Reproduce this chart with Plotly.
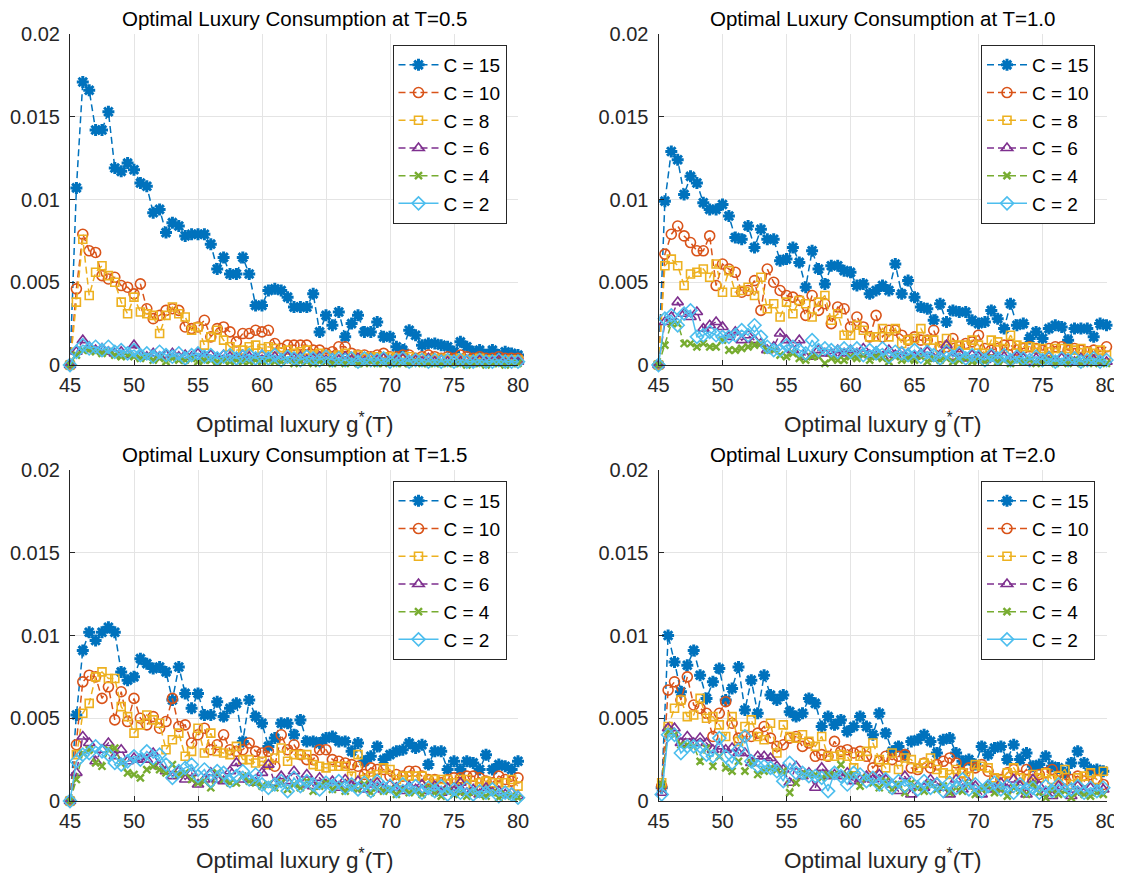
import plotly.graph_objects as go

# ---------------- data ----------------
X_FULL = [45 + 0.5 * k for k in range(71)]      # panels T=0.5, 1.0, 1.5
X_SHIFT = [45.25 + 0.5 * k for k in range(70)]  # panel T=2.0

LABELS = ["C = 15", "C = 10", "C = 8", "C = 6", "C = 4", "C = 2"]
TITLES = ["Optimal Luxury Consumption at T=0.5", "Optimal Luxury Consumption at T=1.0",
          "Optimal Luxury Consumption at T=1.5", "Optimal Luxury Consumption at T=2.0"]
X_TICKS = [45, 50, 55, 60, 65, 70, 75, 80]
Y_TICKS = [0, 0.005, 0.01, 0.015, 0.02]
Y_TICKTEXT = ["0", "0.005", "0.01", "0.015", "0.02"]

# ---- T = 0.5 ----
T05_C15 = [0, .0107, .0171, .0166, .0142, .0142, .0153, .0119, .0117, .0122,
           .0118, .0110, .0108, .0092, .0094, .0080, .0086, .0084, .0078, .0079,
           .0079, .0079, .0073, .0058, .0065, .0055, .0055, .0065, .0055, .0036,
           .0036, .0045, .0046, .0045, .0041, .0035, .0035, .0035, .0043, .0020,
           .0030, .0024, .0032, .0017, .0025, .0030, .0020, .0020, .0026, .0017,
           .0017, .0011, .0009, .0021, .0018, .0012, .0013, .0013, .0012, .0011,
           .0008, .0014, .0011, .0008, .0009, .0006, .0009, .0006, .0008, .0007, .0006]
T05_C10 = [0, .0046, .0079, .0069, .0068, .0054, .0052, .0053, .0048, .0047,
           .0043, .0049, .0034, .0028, .0030, .0033, .0034, .0033, .0023, .0022,
           .0023, .0027, .0017, .0022, .0023, .0020, .0014, .0019, .0019, .0021,
           .0020, .0021, .0013, .0010, .0012, .0012, .0012, .0012, .0009, .0009,
           .0007, .0008, .0011, .0011, .0007, .0006, .0006, .0005, .0006, .0007,
           .0005, .0005, .0006, .0006, .0004, .0005, .0006, .0005, .0004, .0005,
           .0004, .0006, .0005, .0004, .0005, .0004, .0004, .0005, .0004, .0004, .0004]
T05_C8 = [0, .0038, .0076, .0042, .0056, .0060, .0054, .0050, .0038, .0031,
          .0041, .0032, .0031, .0030, .0019, .0030, .0035, .0031, .0029, .0021,
          .0023, .0012, .0017, .0021, .0015, .0011, .0009, .0009, .0011, .0012,
          .0010, .0011, .0010, .0008, .0009, .0007, .0008, .0009, .0006, .0007,
          .0006, .0005, .0006, .0007, .0005, .0006, .0004, .0005, .0005, .0004,
          .0005, .0004, .0004, .0005, .0003, .0004, .0004, .0003, .0004, .0003,
          .0003, .0004, .0003, .0003, .0004, .0003, .0003, .0003, .0002, .0003, .0003]
T05_C6 = [0, .0008, .0015, .0011, .0009, .0010, .0008, .0007, .0008, .0006,
          .0012, .0006, .0005, .0007, .0005, .0006, .0007, .0005, .0006, .0005,
          .0007, .0005, .0006, .0004, .0006, .0005, .0004, .0006, .0005, .0004,
          .0006, .0004, .0005, .0003, .0005, .0004, .0005, .0003, .0004, .0005,
          .0003, .0004, .0003, .0005, .0003, .0004, .0002, .0004, .0003, .0004,
          .0002, .0003, .0004, .0002, .0003, .0002, .0004, .0002, .0003, .0002,
          .0003, .0002, .0003, .0001, .0003, .0002, .0002, .0003, .0001, .0002, .0002]
T05_C4 = [0, .0006, .0009, .0009, .0008, .0007, .0008, .0006, .0005, .0006,
          .0005, .0004, .0005, .0003, .0004, .0002, .0004, .0003, .0003, .0004,
          .0002, .0003, .0003, .0002, .0003, .0002, .0003, .0002, .0002, .0003,
          .0002, .0003, .0002, .0002, .0003, .0001, .0002, .0002, .0001, .0002,
          .0002, .0001, .0002, .0001, .0002, .0001, .0001, .0002, .0001, .0001,
          .0002, .0001, .0001, .0001, .0002, .0001, .0001, .0001, .0001, .0001,
          .0001, .0001, .0000, .0001, .0001, .0000, .0001, .0001, .0000, .0001, .0001]
T05_C2 = [0, .0008, .0012, .0010, .0011, .0009, .0011, .0008, .0009, .0007,
          .0009, .0006, .0007, .0005, .0008, .0006, .0005, .0007, .0004, .0006,
          .0007, .0005, .0006, .0004, .0005, .0006, .0004, .0005, .0006, .0004,
          .0005, .0004, .0006, .0003, .0005, .0004, .0003, .0005, .0004, .0003,
          .0005, .0003, .0004, .0003, .0004, .0002, .0004, .0003, .0003, .0004,
          .0002, .0003, .0004, .0002, .0003, .0003, .0002, .0003, .0002, .0003,
          .0002, .0003, .0002, .0002, .0003, .0002, .0002, .0003, .0002, .0002, .0002]

# ---- T = 1.0 ----
T10_C15 = [0, .0099, .0129, .0124, .0103, .0114, .0110, .0098, .0094, .0094,
           .0097, .0090, .0077, .0076, .0084, .0071, .0082, .0076, .0076, .0063,
           .0064, .0071, .0062, .0047, .0069, .0058, .0049, .0060, .0060, .0057,
           .0056, .0048, .0049, .0043, .0045, .0048, .0045, .0061, .0043, .0051,
           .0041, .0035, .0034, .0027, .0037, .0026, .0033, .0032, .0032, .0027,
           .0025, .0026, .0033, .0028, .0022, .0037, .0024, .0025, .0016, .0020,
           .0016, .0022, .0024, .0023, .0015, .0022, .0022, .0022, .0017, .0025, .0024]
T10_C10 = [0, .0067, .0079, .0084, .0078, .0074, .0069, .0069, .0078, .0048,
           .0061, .0058, .0056, .0044, .0045, .0051, .0033, .0058, .0050, .0045,
           .0042, .0041, .0039, .0030, .0042, .0033, .0037, .0025, .0035, .0034,
           .0023, .0029, .0023, .0017, .0030, .0017, .0021, .0021, .0018, .0015,
           .0017, .0015, .0015, .0021, .0011, .0011, .0016, .0011, .0013, .0014,
           .0018, .0010, .0009, .0010, .0012, .0012, .0009, .0010, .0011, .0010,
           .0009, .0010, .0011, .0011, .0009, .0010, .0009, .0008, .0009, .0008, .0011]
T10_C8 = [0, .0060, .0064, .0060, .0048, .0055, .0056, .0058, .0053, .0061,
          .0044, .0057, .0044, .0045, .0047, .0042, .0053, .0034, .0037, .0029,
          .0038, .0031, .0039, .0037, .0029, .0038, .0042, .0027, .0031, .0018,
          .0018, .0024, .0021, .0017, .0017, .0022, .0017, .0022, .0013, .0015,
          .0016, .0022, .0015, .0015, .0010, .0016, .0012, .0012, .0012, .0015,
          .0012, .0007, .0015, .0014, .0010, .0018, .0012, .0011, .0011, .0010,
          .0010, .0008, .0010, .0010, .0010, .0009, .0010, .0008, .0007, .0009, .0006]
T10_C6 = [0, .0026, .0029, .0038, .0031, .0029, .0032, .0022, .0024, .0026,
          .0023, .0017, .0020, .0015, .0018, .0015, .0013, .0009, .0011, .0019,
          .0015, .0009, .0015, .0005, .0005, .0009, .0007, .0007, .0009, .0007,
          .0009, .0007, .0010, .0006, .0008, .0005, .0009, .0006, .0008, .0007,
          .0005, .0007, .0008, .0004, .0006, .0012, .0005, .0007, .0004, .0006,
          .0005, .0003, .0006, .0004, .0005, .0003, .0005, .0004, .0002, .0004,
          .0003, .0005, .0002, .0004, .0003, .0002, .0004, .0002, .0003, .0002, .0002]
T10_C4 = [0, .0012, .0025, .0025, .0013, .0013, .0011, .0013, .0011, .0011,
          .0015, .0009, .0009, .0010, .0011, .0012, .0013, .0009, .0009, .0006,
          .0005, .0007, .0004, .0003, .0005, .0005, .0001, .0004, .0003, .0003,
          .0005, .0004, .0006, .0003, .0005, .0004, .0002, .0005, .0003, .0004,
          .0003, .0005, .0002, .0004, .0003, .0004, .0002, .0003, .0004, .0002,
          .0003, .0002, .0004, .0002, .0003, .0001, .0003, .0002, .0003, .0001,
          .0002, .0003, .0001, .0002, .0001, .0003, .0001, .0002, .0001, .0002, .0001]
T10_C2 = [0, .0028, .0030, .0024, .0031, .0033, .0017, .0018, .0020, .0018,
          .0017, .0017, .0018, .0021, .0018, .0024, .0017, .0011, .0009, .0009,
          .0012, .0011, .0009, .0007, .0015, .0009, .0010, .0009, .0008, .0010,
          .0008, .0010, .0006, .0009, .0007, .0010, .0005, .0008, .0007, .0006,
          .0009, .0005, .0008, .0006, .0004, .0008, .0005, .0007, .0004, .0006,
          .0005, .0003, .0006, .0004, .0006, .0003, .0005, .0004, .0003, .0005,
          .0003, .0004, .0002, .0004, .0003, .0004, .0002, .0003, .0004, .0002, .0003]

# ---- T = 1.5 ----
T15_C15 = [0, .0052, .0091, .0102, .0097, .0102, .0105, .0102, .0078, .0073,
           .0075, .0086, .0083, .0080, .0081, .0078, .0061, .0081, .0065, .0056,
           .0065, .0052, .0052, .0060, .0051, .0056, .0059, .0036, .0061, .0051,
           .0047, .0033, .0038, .0047, .0047, .0040, .0049, .0036, .0036, .0035,
           .0038, .0039, .0036, .0036, .0030, .0035, .0024, .0027, .0033, .0025,
           .0028, .0030, .0031, .0035, .0032, .0034, .0022, .0030, .0030, .0019,
           .0024, .0019, .0024, .0023, .0019, .0028, .0019, .0022, .0021, .0019, .0024]
T15_C10 = [0, .0034, .0072, .0076, .0075, .0062, .0069, .0049, .0066, .0048,
           .0062, .0050, .0046, .0051, .0044, .0048, .0062, .0045, .0046, .0035,
           .0040, .0044, .0031, .0034, .0040, .0031, .0030, .0031, .0035, .0030,
           .0029, .0030, .0021, .0040, .0031, .0034, .0028, .0025, .0025, .0031,
           .0031, .0025, .0024, .0023, .0022, .0021, .0016, .0020, .0019, .0019,
           .0015, .0016, .0015, .0018, .0018, .0015, .0013, .0013, .0011, .0013,
           .0014, .0014, .0015, .0015, .0014, .0012, .0011, .0015, .0013, .0012, .0014]
T15_C8 = [0, .0028, .0053, .0059, .0075, .0078, .0074, .0074, .0057, .0051,
          .0041, .0046, .0052, .0049, .0047, .0031, .0037, .0041, .0027, .0030,
          .0044, .0029, .0041, .0030, .0029, .0028, .0033, .0025, .0025, .0023,
          .0024, .0022, .0026, .0032, .0024, .0028, .0028, .0028, .0022, .0021,
          .0020, .0021, .0021, .0021, .0015, .0028, .0013, .0015, .0016, .0020,
          .0019, .0013, .0015, .0015, .0015, .0015, .0013, .0013, .0013, .0013,
          .0011, .0013, .0013, .0010, .0011, .0012, .0011, .0011, .0011, .0013, .0009]
T15_C6 = [0, .0017, .0039, .0035, .0024, .0031, .0035, .0027, .0031, .0024,
          .0026, .0025, .0025, .0029, .0021, .0018, .0015, .0018, .0013, .0017,
          .0010, .0013, .0017, .0013, .0012, .0018, .0023, .0013, .0013, .0011,
          .0017, .0022, .0011, .0015, .0012, .0018, .0010, .0016, .0009, .0014,
          .0010, .0012, .0008, .0013, .0009, .0012, .0007, .0010, .0011, .0007,
          .0010, .0008, .0006, .0009, .0007, .0010, .0006, .0009, .0005, .0008,
          .0006, .0011, .0005, .0007, .0004, .0008, .0005, .0006, .0004, .0005, .0003]
T15_C4 = [0, .0013, .0029, .0031, .0023, .0021, .0031, .0032, .0023, .0017,
          .0016, .0014, .0019, .0021, .0019, .0017, .0022, .0016, .0017, .0013,
          .0011, .0012, .0008, .0017, .0013, .0011, .0011, .0015, .0012, .0011,
          .0009, .0010, .0008, .0011, .0007, .0010, .0008, .0012, .0006, .0009,
          .0011, .0007, .0009, .0006, .0008, .0007, .0010, .0005, .0008, .0006,
          .0007, .0004, .0007, .0005, .0006, .0004, .0008, .0005, .0003, .0006,
          .0004, .0005, .0003, .0005, .0004, .0003, .0005, .0002, .0004, .0003, .0002]
T15_C2 = [0, .0024, .0028, .0029, .0033, .0030, .0028, .0023, .0022, .0024,
          .0027, .0025, .0030, .0026, .0028, .0022, .0014, .0018, .0020, .0022,
          .0015, .0019, .0012, .0018, .0017, .0012, .0015, .0018, .0013, .0016,
          .0010, .0008, .0010, .0012, .0006, .0014, .0009, .0012, .0010, .0007,
          .0011, .0009, .0012, .0008, .0010, .0007, .0011, .0006, .0012, .0008,
          .0009, .0006, .0010, .0007, .0009, .0005, .0008, .0006, .0009, .0004,
          .0007, .0005, .0008, .0004, .0006, .0005, .0007, .0003, .0005, .0004, .0002]

# ---- T = 2.0 ----
T20_C15 = [.0008, .0100, .0084, .0066, .0082, .0091, .0076, .0062, .0072, .0080,
           .0061, .0068, .0081, .0055, .0073, .0053, .0076, .0064, .0061, .0064,
           .0054, .0051, .0053, .0062, .0059, .0045, .0051, .0046, .0049, .0042,
           .0045, .0051, .0045, .0040, .0053, .0041, .0030, .0033, .0028, .0036,
           .0037, .0040, .0036, .0029, .0037, .0038, .0029, .0024, .0025, .0022,
           .0033, .0028, .0032, .0033, .0025, .0034, .0025, .0029, .0021, .0022,
           .0027, .0021, .0020, .0017, .0023, .0030, .0023, .0019, .0019, .0018]
T20_C10 = [.0009, .0067, .0072, .0061, .0075, .0058, .0056, .0053, .0039, .0053,
           .0060, .0047, .0038, .0039, .0039, .0041, .0045, .0038, .0033, .0034,
           .0038, .0039, .0033, .0035, .0027, .0028, .0027, .0036, .0030, .0031,
           .0029, .0030, .0027, .0020, .0024, .0027, .0025, .0027, .0028, .0020,
           .0019, .0023, .0020, .0022, .0024, .0026, .0023, .0017, .0020, .0020,
           .0022, .0018, .0013, .0013, .0017, .0019, .0015, .0019, .0013, .0016,
           .0017, .0019, .0015, .0013, .0013, .0015, .0012, .0016, .0013, .0010]
T20_C8 = [.0011, .0045, .0056, .0061, .0051, .0052, .0062, .0050, .0051, .0046,
          .0039, .0051, .0036, .0045, .0049, .0039, .0037, .0047, .0029, .0046,
          .0039, .0038, .0040, .0036, .0033, .0039, .0027, .0027, .0028, .0027,
          .0020, .0027, .0030, .0035, .0025, .0020, .0029, .0019, .0026, .0025,
          .0020, .0023, .0026, .0019, .0017, .0016, .0019, .0017, .0015, .0022,
          .0021, .0020, .0014, .0013, .0017, .0020, .0014, .0013, .0016, .0014,
          .0017, .0013, .0015, .0019, .0010, .0014, .0015, .0017, .0013, .0018]
T20_C6 = [.0005, .0044, .0044, .0035, .0039, .0035, .0038, .0035, .0031, .0033,
          .0031, .0032, .0029, .0029, .0023, .0027, .0027, .0026, .0021, .0019,
          .0011, .0021, .0015, .0017, .0008, .0020, .0015, .0016, .0015, .0017,
          .0012, .0013, .0015, .0013, .0016, .0013, .0010, .0006, .0015, .0004,
          .0009, .0008, .0013, .0011, .0008, .0004, .0013, .0007, .0011, .0009,
          .0004, .0009, .0007, .0011, .0007, .0013, .0009, .0004, .0013, .0009,
          .0005, .0003, .0009, .0007, .0003, .0009, .0005, .0008, .0006, .0007]
T20_C4 = [.0010, .0042, .0040, .0034, .0034, .0033, .0024, .0032, .0021, .0027,
          .0020, .0018, .0024, .0018, .0023, .0016, .0018, .0020, .0019, .0018,
          .0005, .0011, .0017, .0016, .0016, .0014, .0016, .0016, .0022, .0015,
          .0016, .0009, .0014, .0011, .0008, .0012, .0007, .0010, .0005, .0011,
          .0008, .0006, .0010, .0007, .0009, .0005, .0008, .0006, .0010, .0004,
          .0007, .0009, .0005, .0007, .0003, .0008, .0006, .0004, .0010, .0005,
          .0002, .0007, .0004, .0006, .0002, .0005, .0004, .0003, .0005, .0004]
T20_C2 = [.0004, .0040, .0040, .0029, .0033, .0033, .0033, .0028, .0027, .0038,
          .0027, .0023, .0031, .0039, .0024, .0021, .0021, .0020, .0018, .0012,
          .0023, .0017, .0017, .0015, .0015, .0014, .0006, .0017, .0015, .0010,
          .0017, .0016, .0012, .0014, .0010, .0013, .0008, .0012, .0009, .0011,
          .0007, .0012, .0008, .0010, .0006, .0011, .0008, .0013, .0007, .0010,
          .0006, .0009, .0011, .0007, .0009, .0005, .0010, .0007, .0008, .0005,
          .0009, .0006, .0010, .0006, .0007, .0009, .0005, .0008, .0006, .0008]

PANELS = [
    (X_FULL, [T05_C15, T05_C10, T05_C8, T05_C6, T05_C4, T05_C2]),
    (X_FULL, [T10_C15, T10_C10, T10_C8, T10_C6, T10_C4, T10_C2]),
    (X_FULL, [T15_C15, T15_C10, T15_C8, T15_C6, T15_C4, T15_C2]),
    (X_SHIFT, [T20_C15, T20_C10, T20_C8, T20_C6, T20_C4, T20_C2]),
]
for xs, series in PANELS:
    for s in series:
        assert len(s) == len(xs), (len(s), len(xs))

# ---------------- styling ----------------
OFF = 8                      # page body margin of the html page
W, H = 1122 - OFF, 879 - OFF  # figure fits inside the window
FONT = "Liberation Sans, Arial, Helvetica, sans-serif"
COLORS = ["#0072BD", "#D95319", "#EDB120", "#7E2F8E", "#77AC30", "#4DBEEE"]
SYMBOLS = ["asterisk", "circle-open", "square-open", "triangle-up-open", "x-thin", "diamond-open"]
MSIZE = [10, 10, 8, 10, 7, 10]
MLW = [3, 1.6, 1.6, 1.6, 2.4, 1.6]
DASHES = ["7px,4px"] * 5 + ["solid"]

# plot areas in window pixels: (left, right, top, bottom)
BOXES = [(70, 518, 34, 365), (658.5, 1106.5, 34, 365),
         (70, 518, 470, 801), (658.5, 1106.5, 470, 801)]


def fx(px):
    return (px - OFF) / W


def fy(py):
    return 1 - (py - OFF) / H


fig = go.Figure()
layout = dict(width=W, height=H, margin=dict(l=0, r=0, t=0, b=0, autoexpand=False),
              paper_bgcolor="white", plot_bgcolor="white",
              font=dict(family=FONT, color="#262626"), annotations=[])

for p, (xs, series) in enumerate(PANELS):
    n = p + 1
    sfx = "" if n == 1 else str(n)
    leg = "legend" if n == 1 else f"legend{n}"
    for k, ys in enumerate(series):
        fig.add_trace(go.Scatter(
            x=xs, y=ys, mode="lines+markers", name=LABELS[k],
            xaxis="x" + sfx, yaxis="y" + sfx, legend=leg, cliponaxis=False,
            line=dict(color=COLORS[k], width=1.5, dash=DASHES[k]),
            marker=dict(symbol=SYMBOLS[k], size=MSIZE[k], color=COLORS[k],
                        line=dict(color=COLORS[k], width=MLW[k])),
        ))
    l, r, t, b = BOXES[p]
    axcommon = dict(ticks="inside", ticklen=5, tickwidth=1, tickcolor="#262626",
                    showgrid=True, gridcolor="#e4e4e4", gridwidth=1,
                    showline=True, linecolor="#262626", linewidth=1,
                    zeroline=False, automargin=False,
                    tickfont=dict(size=20, color="#262626", family=FONT))
    layout["xaxis" + sfx] = dict(domain=[fx(l), fx(r)], range=[45, 80], tickvals=X_TICKS,
                                 anchor="y" + sfx, ticklabelstandoff=2, **axcommon)
    layout["yaxis" + sfx] = dict(domain=[fy(b), fy(t)], range=[0, 0.02],
                                 tickvals=Y_TICKS, ticktext=Y_TICKTEXT,
                                 anchor="x" + sfx, ticklabelstandoff=5, **axcommon)
    layout[leg] = dict(x=fx(r - 11.5), xanchor="right", y=fy(t + 11), yanchor="top",
                       bgcolor="white", bordercolor="#262626", borderwidth=1,
                       font=dict(size=19, color="#000000", family=FONT),
                       itemwidth=40, tracegroupgap=0)
    cx = fx((l + r) / 2)
    layout["annotations"].append(dict(
        text=TITLES[p], x=cx, y=fy(t - 16), xref="paper", yref="paper",
        xanchor="center", yanchor="middle", showarrow=False,
        font=dict(size=20.5, color="#000000", family=FONT)))
    layout["annotations"].append(dict(
        text="Optimal luxury g<sup>*</sup>(T)", x=cx, y=fy(b + 58),
        xref="paper", yref="paper", xanchor="center", yanchor="middle", showarrow=False,
        font=dict(size=22.5, color="#262626", family=FONT)))

fig.update_layout(**layout)
fig.write_html("out.html")
